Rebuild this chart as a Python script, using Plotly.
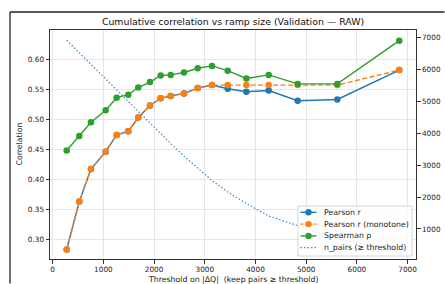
import plotly.graph_objects as go

# ---------------- data ----------------
thresholds = [276, 525, 755, 1045, 1262, 1491, 1688, 1919, 2130, 2327,
              2590, 2860, 3142, 3452, 3819, 4260, 4832, 5614, 6836]
pearson_r = [0.283, 0.363, 0.417, 0.446, 0.474, 0.480, 0.503, 0.523, 0.535, 0.539,
             0.543, 0.552, 0.557, 0.551, 0.546, 0.548, 0.531, 0.533, 0.582]
pearson_mono = [0.283, 0.363, 0.417, 0.446, 0.474, 0.480, 0.503, 0.523, 0.535, 0.539,
                0.543, 0.552, 0.557, 0.557, 0.557, 0.557, 0.557, 0.557, 0.582]
spearman = [0.448, 0.472, 0.495, 0.515, 0.536, 0.541, 0.553, 0.562, 0.573, 0.574,
            0.578, 0.585, 0.589, 0.581, 0.568, 0.574, 0.559, 0.559, 0.631]
n_pairs = [6906, 6512, 6149, 5701, 5338, 4984, 4674, 4308, 3973, 3676,
           3279, 2894, 2518, 2158, 1798, 1407, 1113, 687, 327]

x_ticks = [0, 1000, 2000, 3000, 4000, 5000, 6000, 7000]
y_ticks = [0.30, 0.35, 0.40, 0.45, 0.50, 0.55, 0.60]
y2_ticks = [1000, 2000, 3000, 4000, 5000, 6000, 7000]

# ---------------- style ----------------
W, H = 445, 284
L, R, T, B = 50, 29, 30, 25
PW, PH = W - L - R, H - T - B
FONT = "DejaVu Sans"
BLUE, ORANGE, GREEN = "#1f77b4", "#ff7f0e", "#2ca02c"
SPINE = "#333333"
GRID = "#e6e6e6"


def px(x):
    return (x - L) / PW


def py(y):
    return 1 - (y - T) / PH


fig = go.Figure()
fig.add_trace(go.Scatter(x=thresholds, y=pearson_r, name="Pearson r", mode="lines+markers",
                         line=dict(color=BLUE, width=1.4), marker=dict(size=6.5, color=BLUE),
                         showlegend=False))
fig.add_trace(go.Scatter(x=thresholds, y=pearson_mono, name="Pearson r (monotone)", mode="lines+markers",
                         line=dict(color=ORANGE, width=1.4, dash="5px,2.5px"),
                         marker=dict(size=6.5, color=ORANGE), showlegend=False))
fig.add_trace(go.Scatter(x=thresholds, y=spearman, name="Spearman ρ", mode="lines+markers",
                         line=dict(color=GREEN, width=1.4), marker=dict(size=6.5, color=GREEN),
                         showlegend=False))
fig.add_trace(go.Scatter(x=thresholds, y=n_pairs, name="n_pairs (≥ threshold)", mode="lines",
                         line=dict(color="rgba(31,119,180,0.85)", width=1.2, dash="1.5px,2px"),
                         yaxis="y2", showlegend=False))

axis_common = dict(showline=True, linecolor=SPINE, linewidth=1, ticks="outside",
                   ticklen=3.5, tickcolor=SPINE, tickwidth=1, automargin=False,
                   tickfont=dict(family=FONT, size=7.3, color="#222"), zeroline=False)

fig.update_layout(
    width=W, height=H, autosize=False,
    margin=dict(l=L, r=R, t=T, b=B, autoexpand=False),
    paper_bgcolor="white", plot_bgcolor="white",
    font=dict(family=FONT, color="#222"),
    title=dict(text="Cumulative correlation vs ramp size (Validation — RAW)",
               x=px(233), xref="paper", xanchor="center",
               y=1 - 22 / H, yref="container", yanchor="middle",
               font=dict(family=FONT, size=9.4, color="#111")),
    xaxis=dict(range=[-53, 7166], tickvals=x_ticks, mirror=True,
               showgrid=True, gridcolor=GRID, gridwidth=0.8, **axis_common),
    yaxis=dict(range=[0.2672, 0.6488], tickvals=y_ticks, tickformat=".2f",
               showgrid=True, gridcolor=GRID, gridwidth=0.8, **axis_common),
    yaxis2=dict(range=[60, 7228], tickvals=y2_ticks, overlaying="y", side="right",
                showgrid=False, **axis_common),
    hovermode=False,
)

# axis titles
fig.add_annotation(text="Threshold on |ΔQ|  (keep pairs ≥ threshold)", xref="paper", yref="paper",
                   x=px(233), y=py(279.5), xanchor="center", yanchor="middle", showarrow=False,
                   font=dict(family=FONT, size=7.8, color="#222"))
fig.add_annotation(text="Correlation", xref="paper", yref="paper",
                   x=px(19), y=py(144.5), textangle=-90, xanchor="center", yanchor="middle",
                   showarrow=False, font=dict(family=FONT, size=7.8, color="#222"))

# outer frame of the original figure (cropped): only top and left edges are visible
fig.add_shape(type="line", xref="paper", yref="paper",
              x0=px(10), x1=px(444.5), y0=py(12), y1=py(12),
              line=dict(color="#222", width=1.3), layer="below")
fig.add_shape(type="line", xref="paper", yref="paper",
              x0=px(10), x1=px(10), y0=py(12), y1=py(283.5),
              line=dict(color="#222", width=1.3), layer="below")

# ---------------- custom legend ----------------
fig.add_shape(type="rect", xref="paper", yref="paper",
              x0=px(298), x1=px(412), y0=py(256), y1=py(206),
              line=dict(color="#cccccc", width=0.8), fillcolor="rgba(255,255,255,0.8)",
              layer="above")
legend_entries = [
    ("Pearson r", BLUE, "solid", True),
    ("Pearson r (monotone)", ORANGE, "3px,1.5px", True),
    ("Spearman ρ", GREEN, "solid", True),
    ("n_pairs (≥ threshold)", "rgba(31,119,180,0.85)", "1.5px,2px", False),
]
for i, (label, col, dash, mk) in enumerate(legend_entries):
    yc = 212.3 + i * 11.8
    fig.add_shape(type="line", xref="paper", yref="paper",
                  x0=px(300.5), x1=px(316.5), y0=py(yc), y1=py(yc),
                  line=dict(color=col, width=1.4 if mk else 1.2, dash=dash), layer="above")
    if mk:
        r = 3.2
        fig.add_shape(type="circle", xref="paper", yref="paper",
                      x0=px(308.5 - r), x1=px(308.5 + r), y0=py(yc + r), y1=py(yc - r),
                      line=dict(color=col, width=0), fillcolor=col, layer="above")
    fig.add_annotation(text=label, xref="paper", yref="paper", x=px(322), y=py(yc),
                       xanchor="left", yanchor="middle", showarrow=False,
                       font=dict(family=FONT, size=7.8, color="#222"))

post = (
    "document.documentElement.style.overflow='hidden';"
    "document.body.style.margin='0';document.body.style.overflow='hidden';"
    "var gd=document.getElementById('{plot_id}');"
    "gd.style.overflow='hidden';"
    "gd.querySelectorAll('svg').forEach(function(s){s.style.overflow='hidden';});"
)
fig.write_html("out.html", config={"displayModeBar": False}, post_script=post)
